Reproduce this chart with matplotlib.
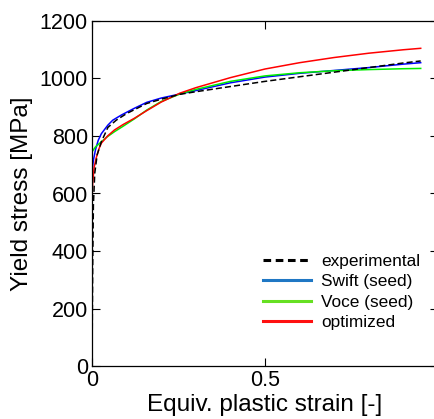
import matplotlib.pyplot as plt
from matplotlib.lines import Line2D

plt.rcParams['font.family'] = ['Liberation Sans', 'DejaVu Sans']

# curve data
x_exp = [0, 0.002, 0.004, 0.008, 0.015, 0.027, 0.046, 0.07, 0.1, 0.158, 0.2, 0.254, 0.3, 0.4, 0.5, 0.6, 0.7, 0.8, 0.9, 0.95]
y_exp = [0, 350, 560, 671, 735, 780, 830, 855, 878, 913, 928, 945, 954, 972, 990, 1006, 1022, 1038, 1054, 1061]

x_swift = [0, 0.004, 0.01, 0.018, 0.027, 0.046, 0.06, 0.085, 0.12, 0.158, 0.2, 0.254, 0.3, 0.4, 0.5, 0.6, 0.7, 0.8, 0.9, 0.95]
y_swift = [676, 715, 752, 785, 808, 838, 855, 873, 895, 917, 932, 946, 958, 985, 1005, 1018, 1028, 1038, 1050, 1055]

x_voce = [0, 0.01, 0.027, 0.045, 0.065, 0.09, 0.123, 0.158, 0.2, 0.254, 0.3, 0.4, 0.5, 0.6, 0.7, 0.8, 0.9, 0.95]
y_voce = [745, 762, 780, 798, 815, 834, 860, 890, 920, 946, 962, 990, 1009, 1020, 1027, 1031, 1034, 1035]

x_opt = [0, 0.002, 0.006, 0.012, 0.02, 0.027, 0.045, 0.065, 0.09, 0.123, 0.158, 0.2, 0.254, 0.3, 0.4, 0.5, 0.6, 0.7, 0.8, 0.9, 0.95]
y_opt = [577, 636, 690, 723, 755, 775, 800, 821, 840, 862, 888, 918, 949, 968, 1003, 1033, 1055, 1073, 1088, 1100, 1105]

labels = ['experimental', 'Swift (seed)', 'Voce (seed)', 'optimized']

fig = plt.figure(figsize=(4.35, 4.19), dpi=100)
ax = fig.add_axes([92 / 435, 53 / 419, 346 / 435, 345 / 419])

ax.plot(x_swift, y_swift, color='#0000ff', lw=1.1)
ax.plot(x_voce, y_voce, color='#00ee00', lw=1.1)
ax.plot(x_opt, y_opt, color='#ff0000', lw=1.1)
ax.plot(x_exp, y_exp, color='black', lw=1.1, ls=(0, (4, 2)))

ax.set_xlim(0, 1)
ax.set_ylim(0, 1200)
ax.set_xticks([0, 0.5, 1])
ax.set_xticklabels(['0', '0.5', '1'])
ax.set_yticks(range(0, 1201, 200))
ax.tick_params(direction='in', top=True, right=True, length=6, labelsize=15.5, pad=3)
for s in ax.spines.values():
    s.set_linewidth(0.9)

ax.set_xlabel('Equiv. plastic strain [-]', fontsize=17.5, labelpad=2)
ax.set_ylabel('Yield stress [MPa]', fontsize=17.5, labelpad=5)

handles = [
    Line2D([], [], color='black', lw=2.2, ls=(0, (2.5, 1.5))),
    Line2D([], [], color='#1f77c4', lw=2.2),
    Line2D([], [], color='#66e022', lw=2.2),
    Line2D([], [], color='#ff1010', lw=2.2),
]
ax.legend(handles, labels, loc='lower left', bbox_to_anchor=(0.474, 0.085),
          frameon=False, fontsize=12.4, handlelength=2.8, handletextpad=0.6,
          labelspacing=0.3, borderaxespad=0)

fig.savefig('out.png', dpi=100)
